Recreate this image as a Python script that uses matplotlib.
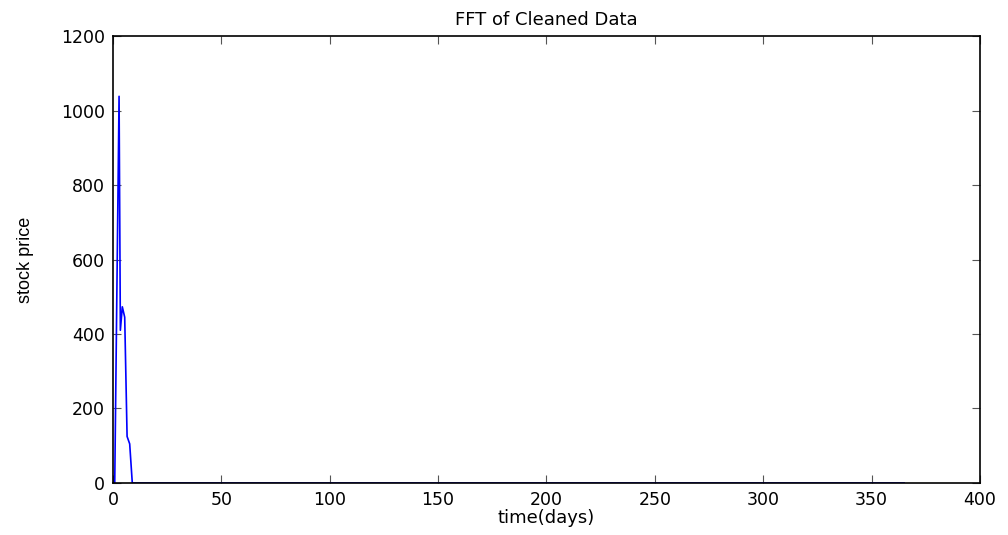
import matplotlib
matplotlib.use("Agg")
import matplotlib.pyplot as plt

# FFT magnitude of the cleaned series
days = [0.8, 2.8, 3.4, 4.3, 5.4, 6.5, 7.7, 8.9, 365]
magnitude = [0, 1038, 410, 473, 445, 125, 105, 0, 0]

x_ticks = [0, 50, 100, 150, 200, 250, 300, 350, 400]
y_ticks = [0, 200, 400, 600, 800, 1000, 1200]

# the reference text is wide, DejaVu gets closest
plt.rcParams['font.family'] = ['DejaVu Sans']

fig = plt.figure(figsize=(10.08, 5.35), dpi=100)
ax = fig.add_axes([0.1121, 0.0972, 0.8601, 0.8355])

ax.plot(days, magnitude, color='#0000ff', linewidth=1.2)

ax.set_xlim(0, 400)
ax.set_ylim(0, 1200)
ax.set_xticks(x_ticks)
ax.set_yticks(y_ticks)
ax.tick_params(direction='in', top=True, right=True, length=6, width=0.8,
               labelsize=12.5, color='#555555', pad=6)
for s in ax.spines.values():
    s.set_linewidth(1.2)
    s.set_color('black')

ax.set_title('FFT of Cleaned Data', fontsize=13, pad=8)
ax.set_xlabel('time(days)', fontsize=13, labelpad=0)
ax.set_ylabel('stock price', fontsize=13, labelpad=19,
              family=['Liberation Sans', 'DejaVu Sans'])

fig.savefig('out.png', dpi=100)
